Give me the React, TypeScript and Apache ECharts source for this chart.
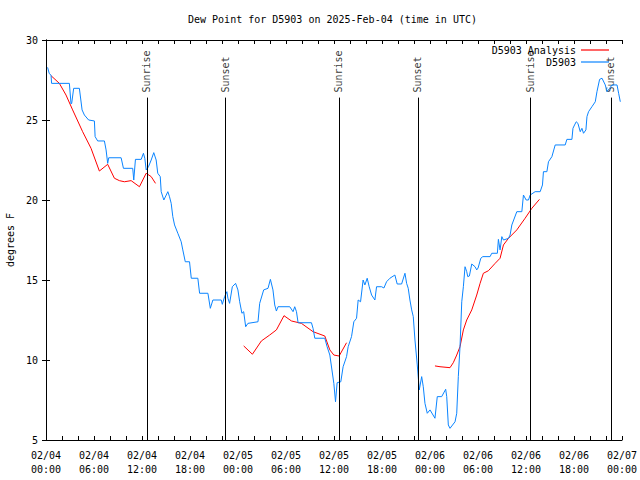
import React, { useEffect, useRef } from "react";
import * as echarts from "echarts";

// hours since 2025-02-04 00:00 UTC
const obsHours = [0.20,0.41,0.63,0.70,2.92,3.13,3.21,3.46,4.17,4.51,4.80,5.33,6.05,6.14,6.46,7.30,7.51,7.71,7.84,9.39,9.68,10.84,10.97,11.18,11.90,12.18,12.35,12.52,12.81,13.15,13.47,13.77,13.97,14.28,14.40,14.73,15.03,15.23,15.44,15.65,15.85,16.07,16.48,16.90,17.10,17.41,17.94,18.16,18.98,19.20,20.24,20.54,20.86,21.91,22.04,22.33,22.61,22.74,22.95,23.29,23.70,23.99,24.21,24.49,24.71,24.96,25.24,26.50,26.71,27.21,27.75,28.05,28.37,28.59,28.80,29.00,30.47,30.88,31.09,31.31,31.51,33.18,33.38,33.60,34.85,35.14,35.48,35.98,36.19,36.39,36.85,37.14,37.57,37.77,38.19,38.48,38.82,39.02,39.32,39.64,39.86,40.15,40.40,40.70,41.11,41.32,41.95,42.24,42.57,42.99,43.61,43.90,44.45,44.87,45.08,45.28,45.49,45.71,45.91,46.12,46.41,46.66,46.96,47.16,47.37,47.66,48.00,48.62,48.91,49.46,49.96,50.09,50.29,50.50,51.13,51.34,51.54,51.75,51.97,52.17,52.38,52.59,52.72,52.92,53.22,53.63,53.84,54.01,54.35,54.60,55.51,55.72,56.42,56.55,56.76,56.98,57.18,57.80,58.01,58.23,58.85,59.48,59.68,60.02,60.31,60.52,61.14,61.77,62.06,62.18,62.61,62.81,63.24,63.65,64.90,65.11,65.74,65.87,66.07,66.28,66.49,66.78,66.99,67.19,67.49,67.62,67.82,68.24,68.66,68.87,69.20,69.50,69.91,70.12,70.45,70.75,71.38,71.58,71.79];
const obsDew = [28.29,27.9,27.8,27.29,27.29,26.0,26.04,26.98,26.98,25.63,25.31,25.0,24.94,23.96,23.69,23.69,23.13,22.29,22.64,22.64,21.98,21.98,21.25,22.54,22.54,22.92,22.61,21.88,22.08,22.5,22.96,22.5,21.67,21.46,20.52,20.0,20.31,20.52,20.2,19.79,18.96,18.44,17.92,17.39,16.88,16.14,16.14,15.11,15.11,14.17,14.17,13.23,13.75,13.75,13.48,13.96,14.27,13.86,13.54,14.58,14.79,14.38,13.64,12.92,13.02,12.08,12.29,12.39,13.54,14.38,14.48,15.04,14.38,13.44,13.06,13.33,13.33,13.02,13.33,13.02,12.33,12.33,11.98,11.36,11.36,10.83,10.31,8.54,7.39,8.58,8.64,9.58,10.21,10.83,11.46,12.39,12.61,13.75,13.64,15.0,14.69,15.11,14.58,14.06,13.75,14.58,14.58,14.5,14.89,15.11,15.31,14.75,14.75,15.42,14.79,14.48,13.75,13.13,12.71,11.25,9.69,8.13,8.96,8.33,7.29,6.67,6.88,6.36,7.71,7.71,8.17,7.71,5.94,5.73,6.14,6.67,8.96,10.83,13.64,14.58,15.83,15.52,15.21,15.25,16.0,15.83,15.63,15.75,16.36,16.46,16.46,16.67,16.67,17.54,16.88,17.71,17.5,17.6,17.81,18.44,19.27,19.27,20.31,20.0,20.0,20.31,20.52,20.52,20.94,21.77,21.77,22.39,22.71,23.44,23.44,23.79,23.79,24.48,24.69,24.89,24.79,24.27,24.48,24.17,24.38,25.21,25.52,25.83,26.14,26.77,27.54,27.61,27.19,26.77,26.98,27.19,27.19,26.67,26.14];

const anaHours1 = [0.63,1.67,2.50,3.33,4.58,5.63,6.67,7.71,8.55,9.17,9.80,10.64,11.68,12.52,13.15,13.69];
const anaDew1 = [27.77,27.29,26.56,25.63,24.27,23.23,21.81,22.23,21.36,21.21,21.14,21.21,20.83,21.67,21.46,21.04];
const anaHours2 = [24.71,25.80,26.92,27.96,28.80,29.75,30.68,31.93,33.38,34.85,35.48,35.98,36.64,37.57];
const anaDew2 = [10.88,10.36,11.19,11.56,11.88,12.77,12.44,12.29,11.77,11.5,10.63,10.31,10.25,11.08];
const anaHours3 = [48.62,49.25,50.50,50.91,51.34,51.75,52.17,52.59,53.22,53.84,54.26,54.67,55.30,56.14,56.76,57.18,57.80,58.85,59.89,60.73,61.68];
const anaDew3 = [9.63,9.58,9.52,9.83,10.31,10.83,11.88,12.5,13.13,14.06,14.79,15.42,15.58,16.04,16.36,17.19,17.6,18.13,18.86,19.48,20.04];

const sunHours = [12.60, 22.45, 36.60, 46.49, 60.52, 70.62];
const sunNames = ["Sunrise", "Sunset", "Sunrise", "Sunset", "Sunrise", "Sunset"];
const sunLineTop = 26.4;

const dayLabels = ["02/04", "02/05", "02/06", "02/07"];

const FONT = "DejaVu Sans Mono";
const zip = (a: number[], b: number[]) => a.map((x, i) => [x, b[i]]);

export default function App() {
  const ref = useRef<HTMLDivElement>(null);
  useEffect(() => {
    const chart = echarts.init(ref.current!, undefined, { renderer: "svg" });
    const textStyle = { fontFamily: FONT, fontSize: 10, color: "#000" };
    const xFmt = (v: number) => {
      if (v % 6 !== 0) return "";
      const d = Math.floor(v / 24);
      const hh = v % 24;
      return dayLabels[d] + "\n" + String(hh).padStart(2, "0") + ":00";
    };
    const redSeries = [zip(anaHours1, anaDew1), zip(anaHours2, anaDew2), zip(anaHours3, anaDew3)].map((d) => ({
      name: "D5903 Analysis",
      type: "line",
      data: d,
      showSymbol: false,
      symbol: "none",
      legendIcon: "rect",
      lineStyle: { color: "#ff0000", width: 1 },
      itemStyle: { color: "#ff0000" },
      z: 3,
    }));
    chart.setOption({
      animation: false,
      textStyle,
      title: {
        text: "Dew Point for D5903 on 2025-Feb-04 (time in UTC)",
        left: 188,
        top: 14,
        padding: 0,
        textStyle: { fontFamily: FONT, fontSize: 10, fontWeight: "normal", color: "#000" },
      },
      legend: {
        orient: "vertical",
        right: 26,
        top: 40,
        align: "right",
        icon: "rect",
        itemWidth: 28,
        itemHeight: 1.2,
        itemGap: 2,
        data: ["D5903 Analysis", "D5903"],
        textStyle: { fontFamily: FONT, fontSize: 10, color: "#000" },
      },
      grid: { left: 46, right: 18, top: 40, bottom: 40, outerBoundsMode: "none", containLabel: false },
      xAxis: [
        {
          type: "value",
          min: 0,
          max: 72,
          interval: 2,
          axisLine: { lineStyle: { color: "#000" } },
          axisTick: { inside: true, length: 4, lineStyle: { color: "#000" } },
          splitLine: { show: false },
          axisLabel: { formatter: xFmt, fontFamily: FONT, fontSize: 10, color: "#000", lineHeight: 14, margin: 8, showMinLabel: true, showMaxLabel: true },
        },
        {
          type: "value",
          position: "top",
          min: 0,
          max: 72,
          interval: 2,
          axisLine: { lineStyle: { color: "#000" } },
          axisTick: { inside: true, length: 4, lineStyle: { color: "#000" } },
          splitLine: { show: false },
          axisLabel: { show: false },
        },
      ],
      yAxis: [
        {
          type: "value",
          min: 5,
          max: 30,
          interval: 5,
          name: "degrees F",
          nameLocation: "middle",
          nameGap: 30,
          nameTextStyle: { fontFamily: FONT, fontSize: 10, color: "#000" },
          axisLine: { show: true, lineStyle: { color: "#000" } },
          axisTick: { show: true, inside: true, length: 4, lineStyle: { color: "#000" } },
          splitLine: { show: false },
          axisLabel: { fontFamily: FONT, fontSize: 10, color: "#000", margin: 8 },
        },
        {
          type: "value",
          position: "right",
          min: 5,
          max: 30,
          interval: 5,
          axisLine: { show: true, lineStyle: { color: "#000" } },
          axisTick: { show: true, inside: true, length: 4, lineStyle: { color: "#000" } },
          splitLine: { show: false },
          axisLabel: { show: false },
        },
      ],
      series: [
        ...redSeries,
        {
          name: "D5903",
          type: "line",
          data: zip(obsHours, obsDew),
          showSymbol: false,
          symbol: "none",
          legendIcon: "rect",
          lineStyle: { color: "#0a84ff", width: 1 },
          itemStyle: { color: "#0a84ff" },
          z: 4,
        },
        {
          name: "sun",
          type: "scatter",
          symbolSize: 0,
          silent: true,
          data: sunHours.map((h, i) => ({ value: [h, sunLineTop], name: sunNames[i] })),
          label: {
            show: true,
            formatter: (p: any) => p.name,
            position: "top",
            distance: 5,
            rotate: 90,
            align: "left",
            verticalAlign: "middle",
            fontFamily: FONT,
            fontSize: 10,
            color: "#000",
          },
          markLine: {
            silent: true,
            symbol: "none",
            label: { show: false },
            lineStyle: { color: "#000", width: 1, type: "solid" },
            data: sunHours.map((h) => [{ coord: [h, 5] }, { coord: [h, sunLineTop] }]),
          },
          z: 2,
        },
      ],
    });
    return () => chart.dispose();
  }, []);
  return <div ref={ref} style={{ width: 640, height: 480, position: "absolute", left: 0, top: 0 }} />;
}
